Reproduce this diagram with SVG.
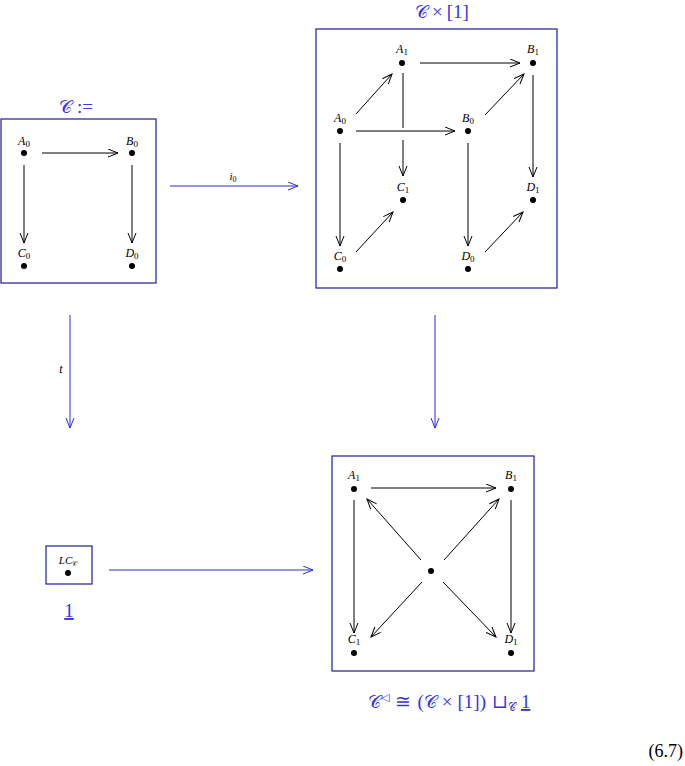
<svg xmlns="http://www.w3.org/2000/svg" width="685" height="766" viewBox="0 0 685 766">
<style>
.bx{fill:none;stroke:#1c1c9a;stroke-width:1.2}
.e{stroke:#000;stroke-width:1;fill:none;marker-end:url(#ak)}
.eb{stroke:#2b2bd6;stroke-width:1;fill:none;marker-end:url(#ab)}
.d{fill:#000}
.lb{font-family:"Liberation Serif","DejaVu Serif",serif;font-style:italic;font-size:12px;text-anchor:middle;fill:#000}
.sb{font-style:normal;font-size:9px}
.bt{font-family:"Liberation Serif","DejaVu Serif",serif;font-size:19px;fill:#3434e0;text-anchor:middle}
.sc{font-family:"DejaVu Sans","Noto Sans",sans-serif;font-style:normal}
.u{text-decoration:underline}
</style>
<defs>
<marker id="ak" markerWidth="12" markerHeight="10" refX="11" refY="4.5" orient="auto" markerUnits="userSpaceOnUse"><path d="M1,0.5 L11,4.5 L1,8.5" fill="none" stroke="#000" stroke-width="1"/></marker>
<marker id="ab" markerWidth="12" markerHeight="10" refX="11" refY="4.5" orient="auto" markerUnits="userSpaceOnUse"><path d="M1,0.5 L11,4.5 L1,8.5" fill="none" stroke="#2b2bd6" stroke-width="1"/></marker>
</defs>

<g id="box-C">
<rect class="bx" x="1" y="119" width="155" height="164"/>
<text class="bt" x="76" y="113"><tspan class="sc" font-size="18">𝒞</tspan><tspan dx="5">:=</tspan></text>
</g>
<g id="C-A0"><circle class="d" cx="24" cy="153" r="3"/><text class="lb" x="24" y="145">A<tspan class="sb" dy="2">0</tspan></text></g>
<g id="C-B0"><circle class="d" cx="132" cy="153" r="3"/><text class="lb" x="132" y="145">B<tspan class="sb" dy="2">0</tspan></text></g>
<g id="C-C0"><circle class="d" cx="24" cy="266" r="3"/><text class="lb" x="24" y="257">C<tspan class="sb" dy="2">0</tspan></text></g>
<g id="C-D0"><circle class="d" cx="132" cy="266" r="3"/><text class="lb" x="132" y="257">D<tspan class="sb" dy="2">0</tspan></text></g>

<g id="box-CxI">
<rect class="bx" x="316" y="29" width="241" height="259"/>
<text class="bt" x="442" y="18"><tspan class="sc" font-size="18">𝒞</tspan><tspan dx="4">×</tspan><tspan dx="4">[1]</tspan></text>
</g>
<g id="P-A1"><circle class="d" cx="402" cy="63" r="3"/><text class="lb" x="402" y="53">A<tspan class="sb" dy="2">1</tspan></text></g>
<g id="P-B1"><circle class="d" cx="533" cy="63" r="3"/><text class="lb" x="533" y="53">B<tspan class="sb" dy="2">1</tspan></text></g>
<g id="P-A0"><circle class="d" cx="340" cy="131" r="3"/><text class="lb" x="340" y="122">A<tspan class="sb" dy="2">0</tspan></text></g>
<g id="P-B0"><circle class="d" cx="468" cy="131" r="3"/><text class="lb" x="468" y="122">B<tspan class="sb" dy="2">0</tspan></text></g>
<g id="P-C1"><circle class="d" cx="403" cy="200" r="3"/><text class="lb" x="403" y="191">C<tspan class="sb" dy="2">1</tspan></text></g>
<g id="P-D1"><circle class="d" cx="533" cy="200" r="3"/><text class="lb" x="533" y="191">D<tspan class="sb" dy="2">1</tspan></text></g>
<g id="P-C0"><circle class="d" cx="340" cy="269" r="3"/><text class="lb" x="340" y="260">C<tspan class="sb" dy="2">0</tspan></text></g>
<g id="P-D0"><circle class="d" cx="468" cy="269" r="3"/><text class="lb" x="468" y="260">D<tspan class="sb" dy="2">0</tspan></text></g>

<g id="box-one">
<rect class="bx" x="46" y="546" width="46" height="38"/>
<text class="bt u" x="69" y="617">1</text>
</g>
<g id="O-LC"><circle class="d" cx="68" cy="573" r="3"/><text class="lb" x="68" y="564" style="font-size:11px">LC<tspan class="sc" style="font-size:7px" dy="2">𝒞</tspan></text></g>

<g id="box-cone">
<rect class="bx" x="332" y="456" width="202" height="215"/>
<text class="bt" x="368" y="708" style="text-anchor:start"><tspan class="sc" font-size="18">𝒞</tspan><tspan dy="-7" font-size="11">◁</tspan><tspan dy="7" dx="6">≅</tspan><tspan dx="6">(</tspan><tspan class="sc" font-size="18">𝒞</tspan><tspan dx="5">×</tspan><tspan dx="5">[1])</tspan><tspan dx="6">⊔</tspan><tspan class="sc" font-size="11" dy="3">𝒞</tspan><tspan dy="-3" dx="5" class="u">1</tspan></text>
</g>
<g id="K-A1"><circle class="d" cx="354" cy="489" r="3"/><text class="lb" x="354" y="479">A<tspan class="sb" dy="2">1</tspan></text></g>
<g id="K-B1"><circle class="d" cx="511" cy="489" r="3"/><text class="lb" x="511" y="479">B<tspan class="sb" dy="2">1</tspan></text></g>
<g id="K-C1"><circle class="d" cx="354" cy="653" r="3"/><text class="lb" x="354" y="643">C<tspan class="sb" dy="2">1</tspan></text></g>
<g id="K-D1"><circle class="d" cx="511" cy="653" r="3"/><text class="lb" x="511" y="643">D<tspan class="sb" dy="2">1</tspan></text></g>
<g id="K-apex"><circle class="d" cx="431" cy="571" r="3"/></g>

<text x="683" y="757" font-family="Liberation Serif, DejaVu Serif, serif" font-size="18" text-anchor="end" fill="#000">(6.7)</text>

<g id="connectors">
<line class="e" x1="42" y1="153" x2="118" y2="153"/>
<line class="e" x1="24" y1="165" x2="24" y2="243"/>
<line class="e" x1="132" y1="165" x2="132" y2="243"/>

<line class="eb" x1="170" y1="186" x2="298" y2="186"/>
<text x="233" y="180" font-family="Liberation Serif, DejaVu Serif, serif" font-style="italic" font-size="11" text-anchor="middle" fill="#000">i<tspan font-size="8" font-style="normal" dy="2">0</tspan></text>

<line class="e" x1="420" y1="63" x2="520" y2="63"/>
<line class="e" x1="356" y1="114" x2="392" y2="74"/>
<path class="e" d="M403,73 L403,128 M403,140 L403,176"/>
<line class="e" x1="356" y1="131" x2="455" y2="131"/>
<line class="e" x1="340" y1="143" x2="340" y2="246"/>
<line class="e" x1="485" y1="115" x2="524" y2="74"/>
<line class="e" x1="533" y1="75" x2="533" y2="177"/>
<line class="e" x1="468" y1="143" x2="468" y2="246"/>
<line class="e" x1="356" y1="252" x2="393" y2="212"/>
<line class="e" x1="485" y1="252" x2="523" y2="212"/>

<line class="eb" x1="70" y1="315" x2="70" y2="428"/>
<text x="61" y="373" font-family="Liberation Serif, DejaVu Serif, serif" font-style="italic" font-size="12" text-anchor="middle" fill="#000">t</text>
<line class="eb" x1="435" y1="315" x2="435" y2="428"/>
<line class="eb" x1="109" y1="570" x2="313" y2="570"/>

<line class="e" x1="371" y1="488" x2="496" y2="488"/>
<line class="e" x1="354" y1="500" x2="354" y2="633"/>
<line class="e" x1="511" y1="500" x2="511" y2="633"/>
<line class="e" x1="421" y1="560" x2="367" y2="499"/>
<line class="e" x1="444" y1="560" x2="499" y2="499"/>
<line class="e" x1="422" y1="582" x2="371" y2="637"/>
<line class="e" x1="443" y1="582" x2="496" y2="637"/>
</g>
</svg>
